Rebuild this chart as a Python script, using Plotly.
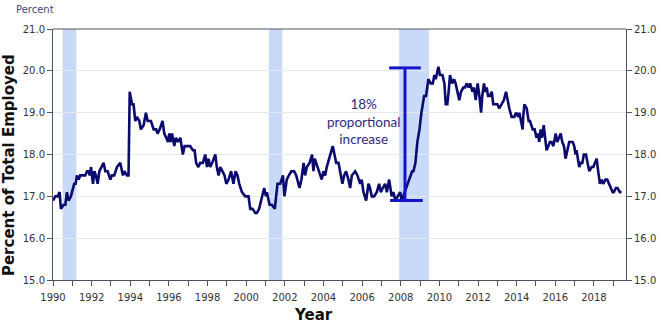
import plotly.graph_objects as go

# ---- data (decimal year, percent of total employed) ----
years = [
    1990.00, 1990.12, 1990.24, 1990.34, 1990.41, 1990.55, 1990.64, 1990.72, 1990.81, 1990.93,
    1990.98, 1991.10, 1991.17, 1991.24, 1991.33, 1991.41, 1991.59, 1991.67, 1991.76, 1991.84,
    1991.90, 1991.97, 1992.07, 1992.14, 1992.22, 1992.31, 1992.40, 1992.50, 1992.62, 1992.71,
    1992.83, 1992.97, 1993.05, 1993.17, 1993.31, 1993.48, 1993.62, 1993.69, 1993.83, 1993.91,
    1993.97, 1994.09, 1994.17, 1994.26, 1994.34, 1994.47, 1994.55, 1994.69, 1994.81, 1994.90,
    1995.07, 1995.21, 1995.34, 1995.41, 1995.52, 1995.67, 1995.76, 1995.86, 1995.95, 1996.02,
    1996.09, 1996.16, 1996.28, 1996.36, 1996.47, 1996.59, 1996.72, 1996.81, 1996.97, 1997.10,
    1997.24, 1997.33, 1997.41, 1997.52, 1997.62, 1997.76, 1997.88, 1997.97, 1998.05, 1998.14,
    1998.24, 1998.40, 1998.48, 1998.57, 1998.66, 1998.79, 1998.88, 1998.97, 1999.09, 1999.22,
    1999.34, 1999.45, 1999.55, 1999.64, 1999.78, 1999.95, 2000.12, 2000.21, 2000.33, 2000.47,
    2000.55, 2000.67, 2000.81, 2000.93, 2001.02, 2001.07, 2001.21, 2001.33, 2001.48, 2001.62,
    2001.76, 2001.90, 2001.98, 2002.10, 2002.21, 2002.34, 2002.48, 2002.59, 2002.76, 2002.86,
    2002.97, 2003.05, 2003.14, 2003.28, 2003.41, 2003.48, 2003.55, 2003.69, 2003.79, 2003.91,
    2004.00, 2004.09, 2004.17, 2004.31, 2004.48, 2004.66, 2004.78, 2004.86, 2004.98, 2005.07,
    2005.17, 2005.29, 2005.38, 2005.47, 2005.64, 2005.76, 2005.90, 2005.98, 2006.07, 2006.21,
    2006.33, 2006.41, 2006.50, 2006.62, 2006.76, 2006.88, 2006.97, 2007.07, 2007.19, 2007.28,
    2007.40, 2007.53, 2007.62, 2007.72, 2007.84, 2007.97, 2008.05, 2008.28, 2008.41, 2008.52,
    2008.59, 2008.66, 2008.76, 2008.86, 2008.97, 2009.07, 2009.21, 2009.31, 2009.43, 2009.55,
    2009.66, 2009.74, 2009.81, 2009.95, 2010.03, 2010.16, 2010.26, 2010.33, 2010.41, 2010.48,
    2010.55, 2010.66, 2010.76, 2010.84, 2010.95, 2011.03, 2011.12, 2011.24, 2011.33, 2011.41,
    2011.52, 2011.59, 2011.71, 2011.79, 2011.88, 2011.98, 2012.07, 2012.16, 2012.22, 2012.31,
    2012.38, 2012.45, 2012.52, 2012.62, 2012.71, 2012.79, 2012.88, 2013.00, 2013.10, 2013.22,
    2013.34, 2013.45, 2013.52, 2013.62, 2013.74, 2013.88, 2013.97, 2014.09, 2014.14, 2014.31,
    2014.34, 2014.40, 2014.52, 2014.62, 2014.69, 2014.83, 2014.93, 2015.03, 2015.10, 2015.17,
    2015.24, 2015.31, 2015.40, 2015.48, 2015.55, 2015.64, 2015.72, 2015.81, 2015.90, 2016.02,
    2016.10, 2016.19, 2016.28, 2016.36, 2016.45, 2016.53, 2016.62, 2016.72, 2016.90, 2016.98,
    2017.05, 2017.10, 2017.17, 2017.24, 2017.31, 2017.40, 2017.48, 2017.59, 2017.67, 2017.76,
    2017.88, 2017.97, 2018.05, 2018.14, 2018.22, 2018.31, 2018.40, 2018.48, 2018.60, 2018.69,
    2018.78, 2018.86, 2018.97, 2019.03, 2019.14, 2019.22, 2019.34, 2019.43,
]
percent = [
    16.9, 17.0, 17.0, 17.1, 16.7, 16.8, 16.8, 17.1, 16.9, 17.0,
    17.1, 17.3, 17.3, 17.5, 17.4, 17.5, 17.5, 17.5, 17.6, 17.6,
    17.5, 17.7, 17.3, 17.6, 17.5, 17.3, 17.6, 17.7, 17.8, 17.6,
    17.6, 17.4, 17.5, 17.5, 17.7, 17.8, 17.5, 17.6, 17.5, 17.5,
    19.5, 19.2, 19.2, 18.8, 18.9, 18.8, 18.6, 18.7, 19.0, 18.8,
    18.8, 18.6, 18.6, 18.5, 18.6, 18.8, 18.5, 18.4, 18.3, 18.5,
    18.3, 18.5, 18.2, 18.4, 18.3, 18.4, 18.0, 18.2, 18.2, 18.2,
    18.1, 18.1, 17.8, 17.7, 17.8, 17.8, 18.0, 17.7, 17.9, 17.7,
    17.8, 18.0, 17.7, 17.5, 17.7, 17.6, 17.5, 17.3, 17.4, 17.6,
    17.3, 17.6, 17.5, 17.3, 17.1, 17.0, 17.0, 16.7, 16.7, 16.6,
    16.6, 16.7, 17.0, 17.2, 17.0, 17.1, 16.8, 16.8, 16.7, 17.3,
    17.3, 17.5, 17.0, 17.4, 17.5, 17.6, 17.6, 17.5, 17.2, 17.4,
    17.8, 17.5, 17.7, 17.8, 18.0, 17.6, 17.9, 17.7, 17.6, 17.4,
    17.6, 17.5, 17.7, 17.9, 18.2, 17.8, 17.8, 17.6, 17.3, 17.5,
    17.6, 17.4, 17.2, 17.5, 17.6, 17.5, 17.3, 17.4, 17.1, 16.9,
    17.3, 17.2, 17.0, 17.0, 17.1, 17.3, 17.1, 17.2, 17.3, 17.1,
    17.4, 17.0, 17.1, 16.9, 17.0, 17.1, 16.9, 17.2, 17.4, 17.5,
    17.6, 17.6, 17.8, 18.3, 18.6, 19.0, 19.4, 19.4, 19.8, 19.7,
    19.7, 19.9, 19.8, 20.1, 19.9, 19.9, 19.7, 19.2, 19.2, 19.5,
    19.9, 19.7, 19.8, 19.7, 19.5, 19.3, 19.5, 19.6, 19.6, 19.7,
    19.6, 19.7, 19.5, 19.6, 19.3, 19.7, 19.4, 19.0, 19.4, 19.7,
    19.5, 19.6, 19.4, 19.4, 19.5, 19.2, 19.2, 19.2, 19.1, 19.2,
    19.3, 19.5, 19.3, 19.1, 18.9, 18.9, 19.0, 18.9, 19.0, 18.6,
    18.9, 19.2, 19.1, 18.8, 18.8, 18.6, 18.6, 18.4, 18.5, 18.3,
    18.6, 18.4, 18.7, 18.3, 18.1, 18.2, 18.3, 18.3, 18.2, 18.5,
    18.3, 18.4, 18.5, 18.3, 18.2, 17.9, 18.1, 18.3, 18.3, 18.2,
    18.0, 18.1, 17.9, 17.7, 17.8, 17.8, 18.0, 18.0, 17.8, 17.6,
    17.7, 17.7, 17.8, 17.9, 17.6, 17.3, 17.4, 17.3, 17.4, 17.4,
    17.3, 17.2, 17.1, 17.1, 17.2, 17.2, 17.1, 17.1,
]

# recessions (start, end) in decimal years
recession_start = [1990.50, 2001.17, 2007.92]
recession_end = [1991.21, 2001.87, 2009.46]

# bracket annotation
bracket_year = 2008.22
bracket_halfwidth = 0.82
bracket_low = 16.9
bracket_high = 20.07
bracket_label = "18%<br>proportional<br>increase"
bracket_label_year = 2006.05
bracket_label_value = 18.78

tick_years = list(range(1990, 2020))
tick_labels = [str(y) if y % 2 == 0 else "" for y in tick_years]
y_ticks = [15, 16, 17, 18, 19, 20, 21]

x_range = [1990, 2019.66]
y_range = [15, 21]

navy = "#0b0b6f"
axis_col = "#4f5463"
tick_font = dict(family="DejaVu Sans", size=10, color="#333333")
title_font = dict(family="DejaVu Sans", size=15, color="#111111", weight="bold")

fig = go.Figure()

fig.add_trace(go.Scatter(x=years, y=percent, mode="lines",
                         line=dict(color=navy, width=2.6), showlegend=False,
                         hoverinfo="x+y"))
# dummy trace to activate right axis
fig.add_trace(go.Scatter(x=[years[0]], y=[percent[0]], yaxis="y2", mode="lines",
                         line=dict(width=0), showlegend=False, hoverinfo="skip"))

shapes = []
for s, e in zip(recession_start, recession_end):
    shapes.append(dict(type="rect", xref="x", yref="y", x0=s, x1=e, y0=y_range[0], y1=y_range[1],
                       fillcolor="#c8daf7", line=dict(width=0), layer="below"))
# top border line
shapes.append(dict(type="line", xref="paper", yref="paper", x0=0, x1=1, y0=1, y1=1,
                   line=dict(color=axis_col, width=1)))
bracket_col = "#1414c8"
shapes.append(dict(type="line", xref="x", yref="y", x0=bracket_year, x1=bracket_year,
                   y0=bracket_low, y1=bracket_high, line=dict(color=bracket_col, width=3)))
shapes.append(dict(type="line", xref="x", yref="y", x0=bracket_year - bracket_halfwidth,
                   x1=bracket_year + bracket_halfwidth, y0=bracket_high, y1=bracket_high,
                   line=dict(color=bracket_col, width=3)))
shapes.append(dict(type="line", xref="x", yref="y", x0=bracket_year - bracket_halfwidth + 0.05,
                   x1=bracket_year + bracket_halfwidth + 0.1, y0=bracket_low, y1=bracket_low,
                   line=dict(color=bracket_col, width=3)))

annotations = [
    dict(text=bracket_label, x=bracket_label_year, y=bracket_label_value, xref="x", yref="y",
         showarrow=False, font=dict(family="Lato", size=13.5, color="#2b2b80"), align="center"),
    dict(text="Percent", x=0, y=1, xref="paper", yref="paper", xanchor="left", yanchor="middle",
         xshift=-39, yshift=20, showarrow=False,
         font=dict(family="DejaVu Sans", size=10, color="#3d4a7c")),
    dict(text="Percent of Total Employed", x=0, y=0.458, xref="paper", yref="paper",
         textangle=-90, xanchor="center", yanchor="middle", xshift=-44, showarrow=False,
         font=title_font),
    dict(text="Year", x=0.454, y=0, xref="paper", yref="paper", xanchor="center",
         yanchor="middle", yshift=-35, showarrow=False,
         font=dict(family="DejaVu Sans", size=15, color="#111111", weight="bold")),
]

fig.update_layout(
    width=660, height=323,
    margin=dict(l=53, r=34, t=29, b=43, autoexpand=False),
    paper_bgcolor="white", plot_bgcolor="white",
    shapes=shapes, annotations=annotations,
    xaxis=dict(range=x_range, tickmode="array", tickvals=tick_years, ticktext=tick_labels,
               ticks="outside", ticklen=5, tickcolor=axis_col, showgrid=False,
               showline=True, linecolor=axis_col, linewidth=1, tickfont=tick_font,
               zeroline=False, automargin=False, ticklabelstandoff=3),
    yaxis=dict(range=y_range, tickvals=y_ticks, tickformat=".1f", ticks="outside", ticklen=5,
               tickcolor=axis_col, showline=True, linecolor=axis_col, linewidth=1,
               showgrid=True, gridcolor="#e6e8ee", gridwidth=1, zeroline=False,
               tickfont=tick_font, automargin=False, ticklabelstandoff=0),
    yaxis2=dict(range=y_range, tickvals=y_ticks, tickformat=".1f", overlaying="y", side="right",
                ticks="outside", ticklen=5, tickcolor=axis_col, showline=True, linecolor=axis_col,
                linewidth=1, showgrid=False, zeroline=False, tickfont=tick_font,
                automargin=False, ticklabelstandoff=0),
)

fig.write_html("out.html")
